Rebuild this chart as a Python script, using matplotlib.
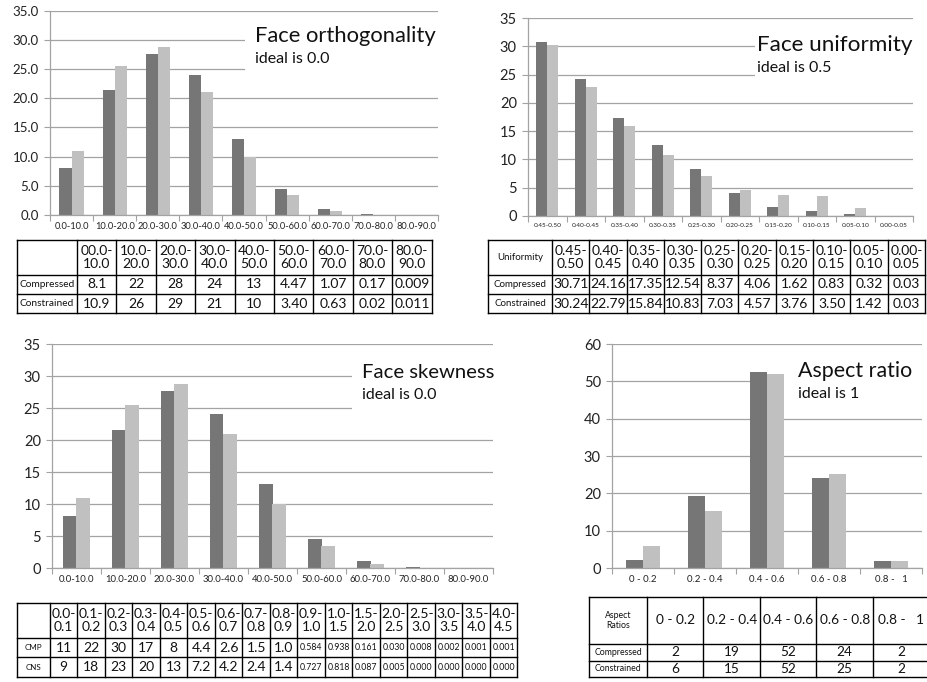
import matplotlib
matplotlib.use("Agg")
import matplotlib.pyplot as plt
from matplotlib.patches import Rectangle
from matplotlib.ticker import FixedLocator, NullFormatter

plt.rcParams['font.family'] = ['Lato', 'DejaVu Sans']

W, H = 928, 682
DARK = '#767676'
LIGHT = '#c0c0c0'
GRID = '#a3a3a3'

# ---------------- data ----------------
ortho_cats = ['0.0-10.0', '10.0-20.0', '20.0-30.0', '30.0-40.0', '40.0-50.0',
              '50.0-60.0', '60.0-70.0', '70.0-80.0', '80.0-90.0']
ortho_cmp = [8.1, 21.5, 27.6, 24.0, 13.1, 4.47, 1.07, 0.17, 0.009]
ortho_cns = [10.9, 25.5, 28.7, 21.0, 10.0, 3.40, 0.63, 0.02, 0.011]
ortho_head = ['00.0-\n10.0', '10.0-\n20.0', '20.0-\n30.0', '30.0-\n40.0', '40.0-\n50.0',
              '50.0-\n60.0', '60.0-\n70.0', '70.0-\n80.0', '80.0-\n90.0']
ortho_cmp_txt = ['8.1', '22', '28', '24', '13', '4.47', '1.07', '0.17', '0.009']
ortho_cns_txt = ['10.9', '26', '29', '21', '10', '3.40', '0.63', '0.02', '0.011']

unif_cats = ['0.45-0.50', '0.40-0.45', '0.35-0.40', '0.30-0.35', '0.25-0.30',
             '0.20-0.25', '0.15-0.20', '0.10-0.15', '0.05-0.10', '0.00-0.05']
unif_cmp = [30.71, 24.16, 17.35, 12.54, 8.37, 4.06, 1.62, 0.83, 0.32, 0.03]
unif_cns = [30.24, 22.79, 15.84, 10.83, 7.03, 4.57, 3.76, 3.50, 1.42, 0.03]
unif_head = ['0.45-\n0.50', '0.40-\n0.45', '0.35-\n0.40', '0.30-\n0.35', '0.25-\n0.30',
             '0.20-\n0.25', '0.15-\n0.20', '0.10-\n0.15', '0.05-\n0.10', '0.00-\n0.05']

skew_cats = ortho_cats
skew_cmp = [8.1, 21.5, 27.6, 24.0, 13.1, 4.47, 1.07, 0.17, 0.009]
skew_cns = [10.9, 25.5, 28.7, 21.0, 10.0, 3.40, 0.63, 0.02, 0.011]
skew_head = ['0.0-\n0.1', '0.1-\n0.2', '0.2-\n0.3', '0.3-\n0.4', '0.4-\n0.5', '0.5-\n0.6',
             '0.6-\n0.7', '0.7-\n0.8', '0.8-\n0.9', '0.9-\n1.0', '1.0-\n1.5', '1.5-\n2.0',
             '2.0-\n2.5', '2.5-\n3.0', '3.0-\n3.5', '3.5-\n4.0', '4.0-\n4.5']
skew_cmp_txt = ['11', '22', '30', '17', '8', '4.4', '2.6', '1.5', '1.0', '0.584', '0.938',
                '0.161', '0.030', '0.008', '0.002', '0.001', '0.001']
skew_cns_txt = ['9', '18', '23', '20', '13', '7.2', '4.2', '2.4', '1.4', '0.727', '0.818',
                '0.087', '0.005', '0.000', '0.000', '0.000', '0.000']

aspect_cats = ['0 - 0.2', '0.2 - 0.4', '0.4 - 0.6', '0.6 - 0.8', '0.8 -   1']
aspect_cmp = [2.2, 19.3, 52.5, 24.2, 1.8]
aspect_cns = [5.8, 15.2, 52.0, 25.2, 1.8]
aspect_cmp_txt = ['2', '19', '52', '24', '2']
aspect_cns_txt = ['6', '15', '52', '25', '2']


def rect(l, t, r, b):
    return [l / W, 1 - b / H, (r - l) / W, (b - t) / H]


fig = plt.figure(figsize=(W / 100, H / 100), dpi=100)
fig.patch.set_facecolor('white')


def bar_panel(box, cats, cmp, cns, ymax, ystep, yfmt, yfs, xfs):
    ax = fig.add_axes(rect(*box))
    n = len(cats)
    x = list(range(n))
    w = 0.28
    ax.bar([i - w / 2 for i in x], cmp, width=w, color=DARK, zorder=2)
    ax.bar([i + w / 2 for i in x], cns, width=w, color=LIGHT, zorder=2)
    ax.set_xlim(-0.5, n - 0.5)
    ax.set_ylim(0, ymax)
    yt = [k * ystep for k in range(int(round(ymax / ystep)) + 1)]
    ax.set_yticks(yt)
    ax.set_yticklabels([yfmt.format(v) for v in yt], fontsize=yfs, color='#222222')
    ax.set_xticks(x)
    ax.set_xticklabels(cats, fontsize=xfs, color='#222222')
    ax.xaxis.set_minor_locator(FixedLocator([i - 0.5 for i in range(n + 1)]))
    ax.xaxis.set_minor_formatter(NullFormatter())
    ax.tick_params(axis='x', which='major', length=0, pad=5)
    ax.tick_params(axis='x', which='minor', length=4, color=GRID, width=0.8)
    ax.tick_params(axis='y', length=4, color=GRID, width=0.8, pad=4)
    ax.grid(axis='y', color=GRID, linewidth=0.9, zorder=0)
    ax.set_axisbelow(True)
    for s in ('top', 'right'):
        ax.spines[s].set_visible(False)
    ax.spines['left'].set_color(GRID)
    ax.spines['bottom'].set_color(GRID)
    ax.spines['left'].set_linewidth(0.9)
    ax.spines['bottom'].set_linewidth(0.9)
    return ax


def caption(box, title, sub, tx, ty, sy, tfs=15, sfs=11.5):
    l, t, r, b = box
    fig.add_artist(Rectangle((l / W, 1 - b / H), (r - l) / W, (b - t) / H,
                             transform=fig.transFigure, facecolor='white',
                             edgecolor='none', zorder=5))
    fig.text(tx / W, 1 - ty / H, title, fontsize=tfs, va='center', ha='left',
             color='#111111', zorder=6)
    fig.text(tx / W, 1 - sy / H, sub, fontsize=sfs, va='center', ha='left',
             color='#111111', zorder=6)


def data_table(left, top, first_w, col_w, row_h, rows, fss, label_fs):
    ncol = len(rows[0]) - 1
    widths = [first_w] + [col_w] * ncol
    tw = sum(widths)
    th = sum(row_h)
    ax = fig.add_axes(rect(left, top, left + tw, top + th))
    ax.set_xlim(0, tw)
    ax.set_ylim(th, 0)
    ax.axis('off')
    xs = [0]
    for wv in widths:
        xs.append(xs[-1] + wv)
    ys = [0]
    for hv in row_h:
        ys.append(ys[-1] + hv)
    for xv in xs:
        ax.plot([xv, xv], [0, th], color='black', lw=1.0, clip_on=False)
    for yv in ys:
        ax.plot([0, tw], [yv, yv], color='black', lw=1.0, clip_on=False)
    for ri, row in enumerate(rows):
        for ci, txt in enumerate(row):
            if not txt:
                continue
            cx = (xs[ci] + xs[ci + 1]) / 2
            cy = (ys[ri] + ys[ri + 1]) / 2
            if ci == 0:
                fs = label_fs
            else:
                fs = fss(ri, txt)
            ax.text(cx, cy, txt, ha='center', va='center', fontsize=fs,
                    color='#111111', linespacing=1.15, clip_on=False)
    return ax


# ---------------- Face orthogonality ----------------
bar_panel((50, 10.7, 438, 215), ortho_cats, ortho_cmp, ortho_cns, 35, 5, '{:.1f}', 9.5, 6.7)
caption((245, 14, 440, 80), 'Face orthogonality', 'ideal is 0.0', 255, 36, 59, tfs=15.8)
data_table(17, 240, 60, 39.4, [35, 19, 19],
           [[''] + ortho_head, ['Compressed'] + ortho_cmp_txt, ['Constrained'] + ortho_cns_txt],
           lambda r, t: 10, 7.3)

# ---------------- Face uniformity ----------------
bar_panel((528, 18, 913, 216), unif_cats, unif_cmp, unif_cns, 35, 5, '{:.0f}', 10.5, 4.6)
caption((755, 25, 915, 84), 'Face uniformity', 'ideal is 0.5', 757, 45, 68, tfs=16.2)
data_table(488, 240, 64, 37.3, [35, 19, 19],
           [['Uniformity'] + unif_head,
            ['Compressed'] + ['{:.2f}'.format(v) for v in unif_cmp],
            ['Constrained'] + ['{:.2f}'.format(v) for v in unif_cns]],
           lambda r, t: 10, 7.0)

# ---------------- Face skewness ----------------
bar_panel((52, 344, 493, 568), skew_cats, skew_cmp, skew_cns, 35, 5, '{:.0f}', 10.5, 6.8)
caption((352, 350, 495, 420), 'Face skewness', 'ideal is 0.0', 362, 372, 395, tfs=14.6)
data_table(17, 603, 33, 27.5, [35, 19, 20],
           [[''] + skew_head, ['CMP'] + skew_cmp_txt, ['CNS'] + skew_cns_txt],
           lambda r, t: 6.3 if len(t) >= 5 and r > 0 else 10, 5.8)

# ---------------- Aspect ratio ----------------
bar_panel((612, 344, 922, 568), aspect_cats, aspect_cmp, aspect_cns, 60, 10, '{:.0f}', 10.5, 7.0)
caption((784, 350, 924, 405), 'Aspect ratio', 'ideal is 1', 798, 371, 394, tfs=15.4)
data_table(589, 597, 58, 56.5, [47, 16.5, 16.5],
           [['Aspect\nRatios'] + aspect_cats,
            ['Compressed'] + aspect_cmp_txt, ['Constrained'] + aspect_cns_txt],
           lambda r, t: 9.8, 6.3)

fig.savefig('out.png', dpi=100, facecolor='white')
